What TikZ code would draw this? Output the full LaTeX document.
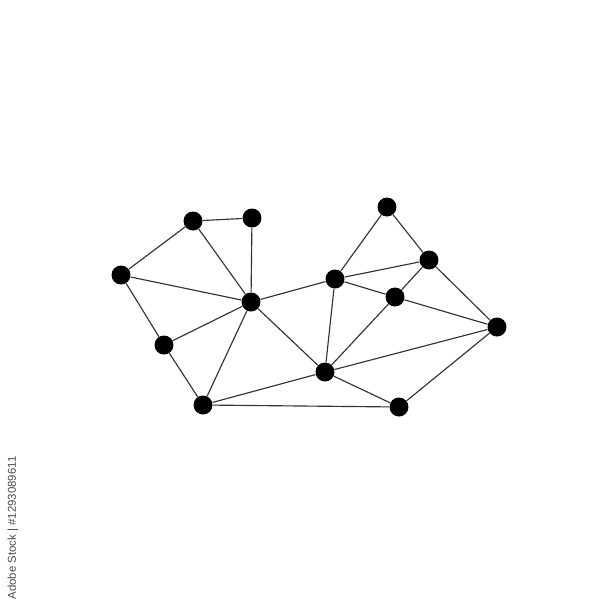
\documentclass[tikz,border=0pt]{standalone}
\usepackage{fontspec}
\setmainfont{Liberation Sans}
\begin{document}
\begin{tikzpicture}[x=0.02cm,y=-0.02cm,
  dot/.style={circle,fill=black,draw=none,minimum size=0.38cm,inner sep=0pt},
  link/.style={draw=black!80,line width=0.65pt}]
\useasboundingbox (0,0) rectangle (600,600);
\fill[white] (0,0) rectangle (600,600);
\node[dot] (A) at (193,221) {};
\node[dot] (B) at (252,218) {};
\node[dot] (C) at (121,275) {};
\node[dot] (D) at (251,302) {};
\node[dot] (E) at (164,345) {};
\node[dot] (F) at (203,405) {};
\node[dot] (G) at (325,372) {};
\node[dot] (H) at (399,407) {};
\node[dot] (I) at (335,279) {};
\node[dot] (J) at (387,207) {};
\node[dot] (K) at (429,260) {};
\node[dot] (L) at (395,297) {};
\node[dot] (M) at (497,327) {};
\begin{scope}[on background layer/.style={}]
\foreach \a/\b in {C/A,A/B,A/D,B/D,C/D,C/E,E/D,E/F,F/D,F/G,F/H,D/G,D/I,I/G,G/H,G/L,G/M,H/M,I/J,J/K,I/K,I/L,L/K,L/M,K/M}
  \draw[link] (\a) -- (\b);
\end{scope}
\node[rotate=90,text=black!70,font=\fontsize{6.5}{7}\selectfont,inner sep=0pt] (wm) at (13,528) {Adobe Stock | \#1293089611};
\end{tikzpicture}
\end{document}
